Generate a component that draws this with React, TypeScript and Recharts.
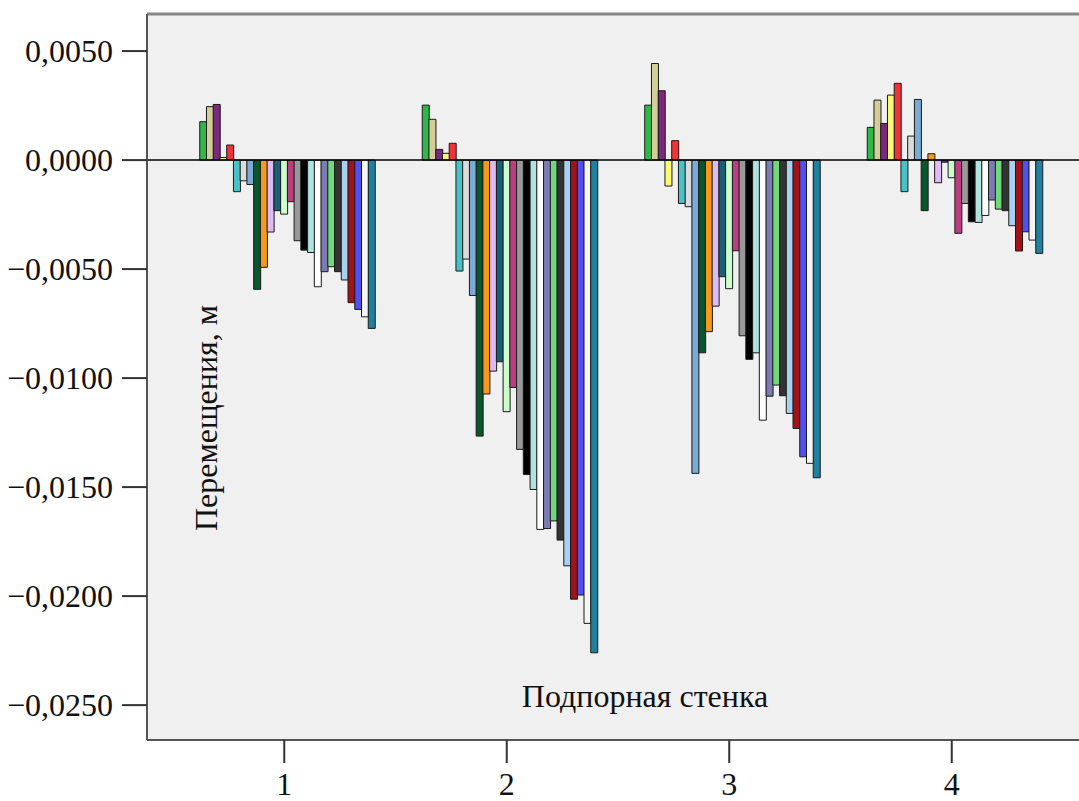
import React from 'react';
import { BarChart, Bar, XAxis, YAxis, CartesianGrid, ReferenceLine } from 'recharts';

const categories = ['1', '2', '3', '4'];

const seriesColors = [
  '#3e58ac', '#2eb848', '#d3ce97', '#7c287d', '#fbf873', '#ef3338', '#48c2c5',
  '#dcdcdc', '#7aaad5', '#0a562c', '#f8981d', '#ddbaf1', '#1a5f76', '#ccffcc',
  '#bb3f7f', '#999999', '#000000', '#b0e2e0', '#ffffff', '#7d7cb2', '#6fd97c',
  '#333333', '#a8d0f0', '#a31219', '#5050f0', '#f5f5f5', '#1f80a0',
];

const wall1Values = [
  0, 0.00176, 0.00245, 0.00255, 0.00012, 0.00069, -0.00145, -0.00095, -0.00112,
  -0.00593, -0.00492, -0.0033, -0.00232, -0.00248, -0.00191, -0.0037, -0.00413,
  -0.00424, -0.00581, -0.00512, -0.00489, -0.00512, -0.0055, -0.00654, -0.00685,
  -0.00719, -0.00772,
];
const wall2Values = [
  0, 0.00252, 0.00187, 0.00049, 0.00031, 0.00077, -0.00509, -0.00454, -0.00621,
  -0.01266, -0.01073, -0.00968, -0.00925, -0.01154, -0.01043, -0.01327, -0.01442,
  -0.01511, -0.01694, -0.0169, -0.01655, -0.01743, -0.01861, -0.02014, -0.01995,
  -0.02125, -0.0226,
];
const wall3Values = [
  0, 0.00252, 0.00443, 0.00318, -0.00119, 0.00089, -0.00199, -0.00214, -0.01437,
  -0.00884, -0.00787, -0.0067, -0.00535, -0.0059, -0.00416, -0.00806, -0.00914,
  -0.00884, -0.01193, -0.01083, -0.01032, -0.01081, -0.01162, -0.01231, -0.01361,
  -0.01391, -0.01457,
];
const wall4Values = [
  0, 0.0015, 0.00275, 0.00168, 0.00298, 0.00352, -0.00145, 0.0011, 0.00278,
  -0.00232, 0.00029, -0.00104, -0.0001, -0.00081, -0.00336, -0.00199, -0.00283,
  -0.00286, -0.00254, -0.00183, -0.00225, -0.00232, -0.00301, -0.00417, -0.00329,
  -0.00367, -0.00428,
];

const yTicks = [0.005, 0, -0.005, -0.01, -0.015, -0.02, -0.025];
const yDomain = [-0.0266, 0.0067];

const groups = [wall1Values, wall2Values, wall3Values, wall4Values];
const tableData = categories.map((name, gi) => {
  const row: Record<string, any> = { name };
  groups[gi].forEach((v, si) => {
    row['s' + si] = v;
  });
  return row;
});

const FONT = "'Liberation Serif', 'Times New Roman', 'DejaVu Serif', serif";

const fmt = (v: number) => {
  const s = Math.abs(v).toFixed(4).replace('.', ',');
  return v < 0 ? '\u2212' + s : s;
};

const tickStyle = { fontFamily: FONT, fontSize: 32, fill: '#111', style: { fontFamily: FONT } };

const YLabel = (props: any) => {
  const vb = props.viewBox || { x: 0, y: 0, width: 0, height: 0 };
  const x = vb.x + vb.width + 70;
  const y = vb.y + vb.height / 2 + 41;
  return (
    <text
      x={x}
      y={y}
      transform={`rotate(-90 ${x} ${y})`}
      textAnchor="middle"
      style={{ fontFamily: FONT, fontSize: 32 }}
      fill="#111"
    >
      Перемещения, м
    </text>
  );
};

const XLabel = (props: any) => {
  const vb = props.viewBox || { x: 0, y: 0, width: 0, height: 0 };
  const x = vb.x + vb.width / 2;
  const y = vb.y - 33;
  return (
    <text x={x} y={y} textAnchor="middle" style={{ fontFamily: FONT, fontSize: 32 }} fill="#111">
      Подпорная стенка
    </text>
  );
};

export default function App() {
  return (
    <div
      style={{
        position: 'absolute',
        left: 0,
        top: 0,
        width: 1079,
        height: 801,
        overflow: 'hidden',
        background: '#ffffff',
        fontFamily: FONT,
      }}
    >
      <BarChart
        width={1143}
        height={801}
        data={tableData}
        margin={{ top: 14, right: 0, bottom: 0, left: 0 }}
        barSize={7}
        barGap={-0.26}
        style={{ fontFamily: FONT }}
      >
        <CartesianGrid horizontal={false} vertical={false} fill="#f0f0f0" />
        <XAxis
          dataKey="name"
          height={61}
          padding={{ left: 26, right: 80 }}
          tickSize={23}
          tickMargin={9}
          axisLine={{ stroke: '#555', strokeWidth: 2 }}
          tickLine={{ stroke: '#333', strokeWidth: 2 }}
          tick={tickStyle}
          label={<XLabel />}
        />
        <YAxis
          width={147}
          domain={yDomain}
          ticks={yTicks}
          type="number"
          allowDataOverflow
          tickFormatter={fmt}
          tickSize={25}
          tickMargin={9}
          axisLine={{ stroke: '#555', strokeWidth: 2 }}
          tickLine={{ stroke: '#333', strokeWidth: 2 }}
          tick={tickStyle}
          label={<YLabel />}
        />
        <ReferenceLine y={yDomain[1]} stroke="#888" strokeWidth={3} />
        {seriesColors.map((c, i) => (
          <Bar
            key={i}
            dataKey={'s' + i}
            fill={c}
            stroke="#1a1a1a"
            strokeWidth={1}
            isAnimationActive={false}
          />
        ))}
        <ReferenceLine y={0} stroke="#000" strokeWidth={1.5} />
      </BarChart>
    </div>
  );
}
